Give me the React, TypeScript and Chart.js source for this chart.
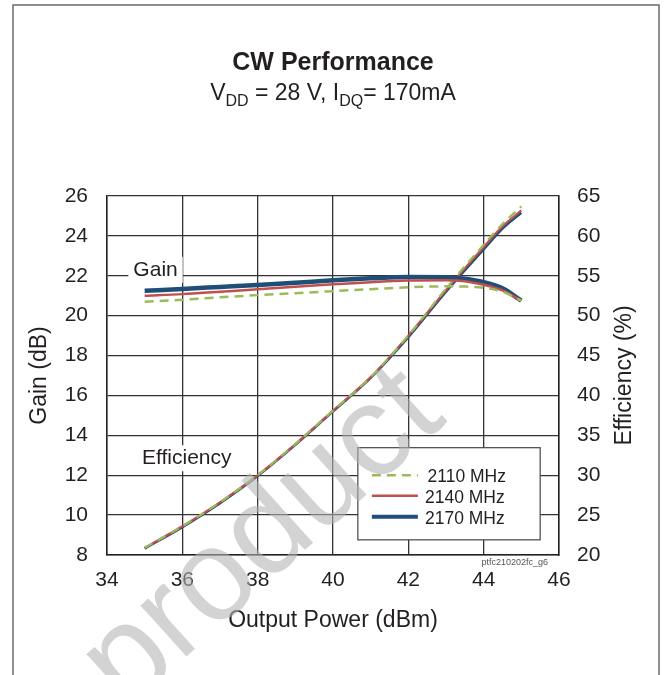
import React, { useEffect, useRef } from 'react';
import { Chart, registerables } from 'chart.js';

Chart.register(...registerables);

// ---- data ----
const SERIES_LABELS = ['2110 MHz', '2140 MHz', '2170 MHz'];
const GAIN_X = [35, 36, 37, 38, 39, 40, 41, 42, 43, 43.5, 44, 44.5, 45];
const GAIN_2110 = [20.7, 20.8, 20.92, 21.03, 21.13, 21.23, 21.33, 21.42, 21.47, 21.46, 21.4, 21.2, 20.75];
const GAIN_2140 = [21.0, 21.08, 21.2, 21.32, 21.45, 21.57, 21.68, 21.76, 21.78, 21.73, 21.55, 21.27, 20.75];
const GAIN_2170 = [21.25, 21.34, 21.44, 21.54, 21.65, 21.77, 21.87, 21.94, 21.93, 21.85, 21.68, 21.37, 20.75];
const EFF_X = [35, 36, 37, 38, 39, 40, 41, 42, 43, 44, 44.5, 45];
const EFF_2110 = [20.9, 23.6, 26.6, 30.0, 33.9, 38.1, 42.3, 47.5, 53.4, 58.9, 61.5, 63.7];
const EFF_2140 = [20.9, 23.6, 26.6, 30.0, 33.9, 38.1, 42.3, 47.5, 53.2, 58.6, 61.2, 63.2];
const EFF_2170 = [20.8, 23.5, 26.5, 29.9, 33.8, 38.0, 42.2, 47.3, 53.0, 58.3, 60.9, 62.9];
const X_TICKS = [34, 36, 38, 40, 42, 44, 46];
const GAIN_TICKS = [8, 10, 12, 14, 16, 18, 20, 22, 24, 26];
const EFF_TICKS = [20, 25, 30, 35, 40, 45, 50, 55, 60, 65];

const TITLE = 'CW Performance';
const X_TITLE = 'Output Power (dBm)';
const Y_TITLE = 'Gain (dB)';
const Y1_TITLE = 'Efficiency (%)';
const NOTE_GAIN = 'Gain';
const NOTE_EFF = 'Efficiency';
const FIG_ID = 'ptfc210202fc_g6';
const WATERMARK = 'product';

const COLORS = ['#9bbb59', '#c0504d', '#1f4e79'];
const FONT = '"Liberation Sans", Arial, Helvetica, sans-serif';
const TEXT = '#231f20';

const zip = (xs: number[], ys: number[]) => xs.map((x, i) => ({ x, y: ys[i] }));

const decor = {
  id: 'decor',
  afterDraw(chart: any) {
    const ctx = chart.ctx as CanvasRenderingContext2D;
    const area = chart.chartArea;
    const cx = (area.left + area.right) / 2;
    ctx.save();

    // frame
    ctx.strokeStyle = '#6a6a6a';
    ctx.lineWidth = 1.5;
    ctx.beginPath();
    ctx.moveTo(13, 675);
    ctx.lineTo(13, 5);
    ctx.lineTo(659, 5);
    ctx.lineTo(659, 675);
    ctx.stroke();

    // title
    ctx.fillStyle = TEXT;
    ctx.textBaseline = 'alphabetic';
    ctx.textAlign = 'center';
    ctx.font = `bold 25px ${FONT}`;
    ctx.fillText(TITLE, cx, 70);

    // subtitle with subscripts
    const parts = [
      { t: 'V', sub: false },
      { t: 'DD', sub: true },
      { t: ' = 28 V, I', sub: false },
      { t: 'DQ', sub: true },
      { t: '= 170mA', sub: false },
    ];
    const mainF = `23px ${FONT}`;
    const subF = `16px ${FONT}`;
    let total = 0;
    parts.forEach((p) => {
      ctx.font = p.sub ? subF : mainF;
      total += ctx.measureText(p.t).width;
    });
    let x = cx - total / 2;
    ctx.textAlign = 'left';
    parts.forEach((p) => {
      ctx.font = p.sub ? subF : mainF;
      ctx.fillText(p.t, x, p.sub ? 106 : 100);
      x += ctx.measureText(p.t).width;
    });

    // right axis title (reads bottom-to-top)
    ctx.save();
    ctx.translate(625, (area.top + area.bottom) / 2);
    ctx.rotate(-Math.PI / 2);
    ctx.textAlign = 'center';
    ctx.textBaseline = 'middle';
    ctx.font = `23px ${FONT}`;
    ctx.fillText(Y1_TITLE, 0, 0);
    ctx.restore();

    // notes
    ctx.font = `21px ${FONT}`;
    ctx.textBaseline = 'middle';
    ctx.textAlign = 'left';
    const xs = chart.scales.x;
    const ys = chart.scales.y;
    const gx = xs.getPixelForValue(34.7);
    const gy = ys.getPixelForValue(22.3);
    const gw = ctx.measureText(NOTE_GAIN).width;
    ctx.fillStyle = '#fff';
    ctx.fillRect(gx - 5, gy - 13, gw + 10, 26);
    ctx.fillStyle = TEXT;
    ctx.fillText(NOTE_GAIN, gx, gy);
    const ex = xs.getPixelForValue(34.93);
    const ey = ys.getPixelForValue(12.85);
    const ew = ctx.measureText(NOTE_EFF).width;
    ctx.fillStyle = '#fff';
    ctx.fillRect(ex - 4, ey - 13, ew + 8, 26);
    ctx.fillStyle = TEXT;
    ctx.fillText(NOTE_EFF, ex, ey);

    // legend
    const lx0 = xs.getPixelForValue(40.66);
    const lx1 = xs.getPixelForValue(45.5);
    const ly0 = ys.getPixelForValue(13.38);
    const ly1 = ys.getPixelForValue(8.76);
    ctx.fillStyle = '#fff';
    ctx.fillRect(lx0, ly0, lx1 - lx0, ly1 - ly0);
    ctx.strokeStyle = '#444';
    ctx.lineWidth = 1.2;
    ctx.strokeRect(lx0, ly0, lx1 - lx0, ly1 - ly0);
    const rowsY = [ly0 + 29.5, ly0 + 50, ly0 + 71];
    const widths = [2.5, 2.5, 4];
    const textX = [427.5, 425, 425];
    ctx.font = `17.5px ${FONT}`;
    SERIES_LABELS.forEach((lab, i) => {
      ctx.strokeStyle = COLORS[i];
      ctx.lineWidth = widths[i];
      ctx.setLineDash(i === 0 ? [9, 6] : []);
      ctx.beginPath();
      ctx.moveTo(lx0 + 14, rowsY[i] - 2);
      ctx.lineTo(lx0 + 60, rowsY[i] - 2);
      ctx.stroke();
      ctx.setLineDash([]);
      ctx.fillStyle = TEXT;
      ctx.fillText(lab, textX[i], rowsY[i]);
    });

    // figure id
    ctx.font = `9px ${FONT}`;
    ctx.fillStyle = '#555';
    ctx.textAlign = 'right';
    ctx.fillText(FIG_ID, 548, area.bottom + 8);

    // watermark
    ctx.save();
    ctx.translate(126, 711);
    ctx.rotate((-42 * Math.PI) / 180);
    ctx.font = `130px ${FONT}`;
    ctx.textAlign = 'left';
    ctx.textBaseline = 'alphabetic';
    ctx.fillStyle = 'rgba(180,180,180,0.58)';
    ctx.fillText(WATERMARK, 0, 0);
    ctx.restore();

    ctx.restore();
  },
};

export default function App() {
  const ref = useRef<HTMLCanvasElement | null>(null);
  useEffect(() => {
    if (!ref.current) return;
    Chart.defaults.font.family = FONT;
    const base = { pointRadius: 0, tension: 0.4, cubicInterpolationMode: 'monotone' as const, fill: false };
    const chart = new Chart(ref.current, {
      type: 'line',
      data: {
        datasets: [
          { ...base, label: SERIES_LABELS[0], data: zip(GAIN_X, GAIN_2110), yAxisID: 'y', borderColor: COLORS[0], borderWidth: 2.5, borderDash: [9, 6] },
          { ...base, label: SERIES_LABELS[1], data: zip(GAIN_X, GAIN_2140), yAxisID: 'y', borderColor: COLORS[1], borderWidth: 2.5 },
          { ...base, label: SERIES_LABELS[2], data: zip(GAIN_X, GAIN_2170), yAxisID: 'y', borderColor: COLORS[2], borderWidth: 4.5 },
          { ...base, label: SERIES_LABELS[0] + ' eff', data: zip(EFF_X, EFF_2110), yAxisID: 'y1', borderColor: COLORS[0], borderWidth: 2.2, borderDash: [9, 6] },
          { ...base, label: SERIES_LABELS[1] + ' eff', data: zip(EFF_X, EFF_2140), yAxisID: 'y1', borderColor: COLORS[1], borderWidth: 2.2 },
          { ...base, label: SERIES_LABELS[2] + ' eff', data: zip(EFF_X, EFF_2170), yAxisID: 'y1', borderColor: COLORS[2], borderWidth: 2.5 },
        ],
      },
      options: {
        animation: false,
        responsive: false,
        layout: { padding: { top: 196, left: 0, right: 0, bottom: 0 } },
        plugins: { legend: { display: false }, tooltip: { enabled: false }, title: { display: false } },
        scales: {
          x: {
            type: 'linear',
            position: 'bottom',
            min: 34,
            max: 46,
            afterBuildTicks: (s: any) => { s.ticks = X_TICKS.map((v) => ({ value: v })); },
            afterFit: (s: any) => { s.height = 120; },
            grid: { color: '#333', lineWidth: 1.3, drawTicks: false },
            border: { display: true, color: '#222', width: 1.5 },
            ticks: { color: TEXT, font: { size: 21, family: FONT }, padding: 13, maxRotation: 0 },
            title: { display: true, text: X_TITLE, color: TEXT, font: { size: 23, family: FONT }, padding: { top: 0, bottom: 41 } },
          },
          y: {
            type: 'linear',
            position: 'left',
            min: 8,
            max: 26,
            afterBuildTicks: (s: any) => { s.ticks = GAIN_TICKS.map((v) => ({ value: v })); },
            afterFit: (s: any) => { s.width = 107; },
            grid: { color: '#333', lineWidth: 1.3, drawTicks: false },
            border: { display: true, color: '#222', width: 1.5 },
            ticks: { color: TEXT, font: { size: 21, family: FONT }, padding: 19 },
            title: { display: true, text: Y_TITLE, color: TEXT, font: { size: 23, family: FONT }, padding: { top: 26, bottom: 0 } },
          },
          y1: {
            type: 'linear',
            position: 'right',
            min: 20,
            max: 65,
            afterBuildTicks: (s: any) => { s.ticks = EFF_TICKS.map((v) => ({ value: v })); },
            afterFit: (s: any) => { s.width = 107; },
            grid: { display: false, drawTicks: false },
            border: { display: true, color: '#222', width: 1.5 },
            ticks: { color: TEXT, font: { size: 21, family: FONT }, padding: 18 },
            title: { display: false },
          },
        },
      },
      plugins: [decor],
    });
    return () => chart.destroy();
  }, []);
  return (
    <div style={{ position: 'absolute', left: 0, top: 0, width: 666, height: 675, background: '#fff' }}>
      <canvas ref={ref} width={666} height={675} style={{ display: 'block' }} />
    </div>
  );
}
